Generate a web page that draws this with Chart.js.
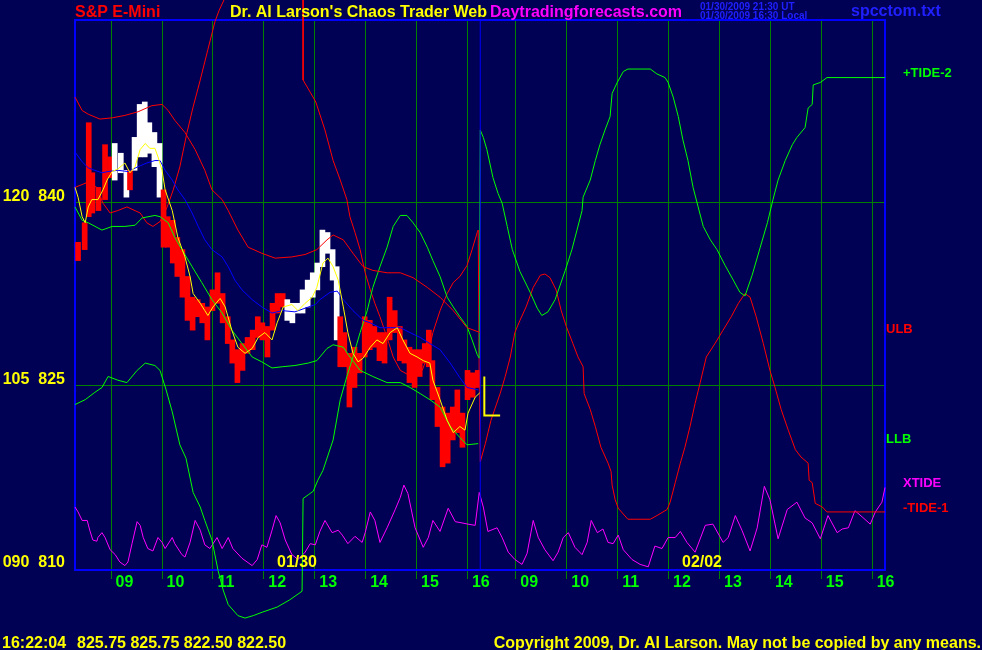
<!DOCTYPE html>
<html>
<head>
<meta charset="utf-8">
<script src="https://cdn.jsdelivr.net/npm/chart.js@4.4.1/dist/chart.umd.min.js"></script>
<style>
  html, body { margin: 0; padding: 0; background: #000055; }
  canvas { display: block; }
</style>
</head>
<body>
<canvas id="chaosCanvas" width="982" height="650"></canvas>
<script>
// x = hours from the left edge of the chart (01/30 session, then 02/02), y = S&P points
const tickHours = [0.71, 1.71, 2.71, 3.71, 4.71, 5.71, 6.71, 7.71, 8.66, 9.66, 10.66, 11.66, 12.66, 13.66, 14.66, 15.66];
const tickLabels = ['09', '10', '11', '12', '13', '14', '15', '16', '09', '10', '11', '12', '13', '14', '15', '16'];
const yTicks = [810, 825, 840];
const yTickLabels = ['090  810', '105  825', '120  840'];
const nowHour = 7.96;

// price bars (01/30)
const barHour = [0.06,0.19,0.27,0.34,0.46,0.59,0.69,0.78,0.90,1.01,1.08,1.17,1.27,1.37,1.46,1.56,1.66,1.74,1.82,1.92,2.01,2.11,2.21,2.31,2.41,2.50,2.60,2.70,2.80,2.90,3.00,3.09,3.19,3.29,3.39,3.49,3.59,3.68,3.78,3.88,3.98,4.08,4.17,4.27,4.37,4.47,4.57,4.67,4.76,4.86,4.96,5.06,5.14,5.21,5.29,5.39,5.49,5.59,5.69,5.79,5.88,5.98,6.08,6.18,6.28,6.38,6.47,6.57,6.67,6.77,6.87,6.95,7.02,7.12,7.22,7.32,7.42,7.51,7.61,7.71,7.81,7.91];
const barLow = [835.2,836.1,838.8,839.1,839.3,840.2,842.0,841.8,842.4,840.4,841.0,842.6,843.7,843.7,844.0,842.9,840.4,836.3,836.3,835.0,833.9,832.2,830.3,829.5,830.6,830.1,828.7,831.1,831.7,830.1,828.4,826.8,825.2,826.2,827.6,827.9,828.9,828.7,827.3,829.5,830.9,831.4,830.3,830.1,830.9,830.9,831.4,832.2,832.8,834.7,835.8,833.6,828.7,826.5,826.5,823.2,824.8,826.0,827.3,827.9,828.1,827.0,826.8,828.7,829.3,827.0,826.8,825.2,824.8,825.7,826.8,826.5,823.8,821.6,818.3,818.6,820.5,821.1,819.9,823.8,824.0,824.8];
const barHigh = [836.7,838.3,846.5,842.4,841.2,844.7,843.7,844.8,844.0,842.6,842.6,845.3,848.0,848.2,846.5,845.7,844.8,841.0,838.8,838.5,837.1,836.1,833.9,832.2,832.0,831.7,831.4,832.8,834.2,832.5,830.6,828.7,827.9,828.4,828.9,829.5,830.6,830.1,829.8,831.7,832.5,832.5,832.0,831.7,831.7,832.8,833.6,834.2,835.0,837.7,837.5,836.1,834.7,830.6,829.3,827.6,828.1,827.6,830.6,830.3,829.8,829.3,829.3,832.2,831.1,829.8,828.7,828.1,827.9,827.9,828.4,829.5,827.0,824.8,823.2,822.7,823.2,824.6,822.7,826.2,826.0,826.2];
const barSide = ['dn','dn','dn','dn','dn','dn','dn','up','up','up','dn','up','up','up','up','up','up',
  'dn','dn','dn','dn','dn','dn','dn','dn','dn','dn','dn','dn','dn','dn','dn','dn','dn','dn','dn','dn','dn','dn','dn','dn','dn',
  'up','up','up','up','up','up','up','up','up','up','up',
  'dn','dn','dn','dn','dn','dn','dn','dn','dn','dn','dn','dn','dn','dn','dn','dn','dn','dn','dn','dn','dn','dn','dn','dn','dn','dn','dn','dn','dn'];

// averages and bands on 01/30
const fastAvg = [[0,841.2],[0.06,840.4],[0.14,838.8],[0.20,838.3],[0.26,839.6],[0.33,840.2],[0.45,840.2],[0.55,841.0],[0.63,841.8],[0.73,842.5],[0.84,842.7],[0.98,843.2],[1.08,842.4],[1.18,842.9],[1.28,844.3],[1.38,844.8],[1.47,844.4],[1.57,844.4],[1.63,843.7],[1.71,842.6],[1.77,841.0],[1.91,839.3],[2.02,837.1],[2.16,835.5],[2.26,833.9],[2.32,832.5],[2.46,831.7],[2.55,831.1],[2.61,830.7],[2.71,831.4],[2.85,832.1],[2.95,831.4],[3.08,829.5],[3.20,828.1],[3.34,827.6],[3.48,828.0],[3.60,828.9],[3.73,829.3],[3.87,828.7],[3.97,830.1],[4.09,831.4],[4.26,831.6],[4.38,831.1],[4.52,831.7],[4.66,832.2],[4.75,833.0],[4.87,835.0],[4.97,835.4],[5.07,834.7],[5.17,833.6],[5.27,831.4],[5.36,829.3],[5.46,827.6],[5.56,826.9],[5.66,827.2],[5.80,828.1],[5.93,828.7],[6.05,828.4],[6.19,829.3],[6.33,829.7],[6.44,828.7],[6.58,827.6],[6.72,827.3],[6.84,827.0],[6.97,826.8],[7.03,825.4],[7.17,823.8],[7.31,822.1],[7.43,821.1],[7.56,821.6],[7.66,821.3],[7.72,822.7],[7.86,824.0],[7.96,824.4]];
const slowAvg = [[0,844.1],[0.14,843.3],[0.26,842.8],[0.39,842.6],[0.53,842.4],[0.65,842.5],[0.84,842.6],[1.04,842.5],[1.24,842.9],[1.41,843.2],[1.57,843.4],[1.67,843.4],[1.77,842.6],[1.91,841.8],[2.02,841.0],[2.16,840.2],[2.30,839.1],[2.42,838.0],[2.55,836.9],[2.69,836.1],[2.89,835.5],[3.01,834.7],[3.14,833.6],[3.28,832.8],[3.48,832.0],[3.67,831.4],[3.87,830.9],[4.07,831.1],[4.32,831.0],[4.52,831.3],[4.72,831.6],[4.81,832.0],[5.01,832.6],[5.15,832.7],[5.27,832.0],[5.46,831.1],[5.66,830.3],[5.80,830.1],[5.99,829.7],[6.19,829.7],[6.39,829.7],[6.58,829.3],[6.78,828.9],[6.97,828.4],[7.17,827.9],[7.37,826.8],[7.56,825.6],[7.70,824.8],[7.92,824.6]];
const ulb = [[0,848.6],[0.14,847.5],[0.26,847.2],[0.49,846.8],[0.73,846.9],[0.98,847.1],[1.24,847.4],[1.51,847.9],[1.71,848.0],[1.83,847.5],[1.96,846.7],[2.16,845.7],[2.36,844.3],[2.55,842.6],[2.69,841.0],[2.89,840.2],[3.01,839.3],[3.20,837.7],[3.40,836.3],[3.67,835.8],[3.93,835.4],[4.26,835.5],[4.52,835.7],[4.75,836.1],[4.95,836.9],[5.07,837.3],[5.27,836.9],[5.46,835.8],[5.66,834.7],[5.85,834.4],[6.13,834.2],[6.39,834.2],[6.64,833.8],[6.92,833.0],[7.17,832.2],[7.43,831.1],[7.70,829.7],[7.96,829.3]];
const llb = [[0,839.6],[0.14,838.5],[0.26,838.3],[0.53,837.7],[0.73,838.0],[0.98,838.0],[1.18,838.1],[1.32,838.7],[1.57,838.9],[1.67,838.8],[1.83,838.3],[1.96,837.1],[2.10,836.1],[2.30,834.7],[2.49,833.4],[2.69,832.0],[2.89,830.9],[3.08,829.5],[3.28,828.4],[3.48,827.3],[3.67,826.9],[3.87,826.4],[4.07,826.5],[4.32,826.6],[4.58,826.8],[4.75,827.0],[4.95,828.0],[5.07,828.3],[5.27,828.1],[5.40,827.3],[5.60,826.2],[5.85,825.7],[6.13,825.2],[6.39,825.2],[6.58,824.8],[6.78,824.3],[6.97,823.8],[7.17,823.2],[7.37,821.6],[7.56,820.7],[7.70,820.1],[7.92,820.2]];

// tides, both days
const tidePlus2 = [[0,823.4],[0.20,823.8],[0.39,824.4],[0.53,824.8],[0.65,825.7],[0.84,825.4],[1.02,825.2],[1.22,826.2],[1.38,826.8],[1.57,826.6],[1.67,826.2],[1.79,824.6],[1.91,822.8],[2.06,820.1],[2.18,819.0],[2.32,816.2],[2.46,815.0],[2.55,813.9],[2.69,812.3],[2.81,809.8],[2.91,808.2],[3.01,807.0],[3.20,806.1],[3.34,805.9],[3.50,806.1],[3.69,806.4],[3.97,806.8],[4.22,807.4],[4.46,808.1],[4.48,815.7],[4.58,816.0],[4.68,816.3],[4.77,817.2],[4.87,818.0],[5.07,820.5],[5.21,823.8],[5.34,825.7],[5.46,827.3],[5.60,829.3],[5.74,831.1],[5.85,833.0],[5.99,834.7],[6.13,836.3],[6.25,838.0],[6.39,838.9],[6.52,838.9],[6.64,838.3],[6.78,837.5],[6.92,836.3],[7.03,835.2],[7.17,833.9],[7.31,832.2],[7.43,831.4],[7.56,830.6],[7.70,829.8],[7.80,828.7],[7.90,827.5],[7.94,827.2],
  [7.96,845.9],[8.02,845.3],[8.09,844.3],[8.21,842.0],[8.31,840.7],[8.39,839.9],[8.49,838.0],[8.59,836.1],[8.74,834.3],[8.94,832.6],[9.08,831.3],[9.17,830.7],[9.29,831.0],[9.43,832.0],[9.63,834.4],[9.76,836.1],[9.86,837.7],[9.96,839.3],[9.98,840.4],[10.12,841.8],[10.22,843.4],[10.31,844.7],[10.41,845.9],[10.51,847.0],[10.55,848.9],[10.65,849.8],[10.77,850.7],[10.86,850.9],[11.30,850.9],[11.43,850.5],[11.59,850.2],[11.65,849.8],[11.75,848.6],[11.85,847.0],[11.94,845.1],[12.04,843.4],[12.14,841.2],[12.24,839.6],[12.34,838.0],[12.48,836.9],[12.61,836.1],[12.77,834.8],[12.93,833.6],[13.06,832.6],[13.16,832.3],[13.30,834.0],[13.46,836.3],[13.60,838.3],[13.71,840.2],[13.81,841.8],[13.95,843.4],[14.09,844.7],[14.18,845.3],[14.34,846.1],[14.40,847.7],[14.48,848.0],[14.50,849.6],[14.64,849.8],[14.77,850.2],[15.91,850.2]];
const tideMinus1 = [[0,841.2],[0.24,841.6],[0.43,841.2],[0.55,839.9],[0.69,839.1],[0.84,839.3],[1.02,839.6],[1.28,839.1],[1.41,838.3],[1.53,838.0],[1.67,838.4],[1.81,839.6],[1.93,841.0],[2.06,842.9],[2.20,845.7],[2.32,847.8],[2.46,850.0],[2.61,852.5],[2.75,854.8],[2.83,855.7],[2.93,856.6],[3.01,857.4],[4.48,857.4],[4.48,850.0],[4.62,849.0],[4.73,848.2],[4.91,845.9],[5.07,843.4],[5.21,841.8],[5.34,840.2],[5.40,838.8],[5.50,837.5],[5.60,836.1],[5.70,834.2],[5.80,832.8],[5.89,831.7],[5.99,830.6],[6.13,828.9],[6.25,827.3],[6.39,826.2],[6.52,825.9],[6.68,825.9],[6.82,826.2],[6.92,827.3],[7.03,829.3],[7.17,831.1],[7.31,832.5],[7.43,833.4],[7.56,833.9],[7.70,834.8],[7.80,836.1],[7.90,837.5],[7.92,837.7],[7.94,825.4],
  [7.96,818.7],[8.06,820.2],[8.17,822.1],[8.35,824.3],[8.45,825.7],[8.55,827.3],[8.64,829.3],[8.74,830.3],[8.86,831.4],[9.00,833.0],[9.14,834.0],[9.23,834.1],[9.33,833.8],[9.45,832.8],[9.55,831.1],[9.65,829.8],[9.78,828.4],[9.88,827.3],[9.98,826.5],[10.00,824.3],[10.12,823.0],[10.22,821.6],[10.33,819.9],[10.47,818.6],[10.53,817.9],[10.55,816.8],[10.61,815.6],[10.67,814.9],[10.86,814.0],[11.30,814.0],[11.43,814.3],[11.63,814.8],[11.69,815.4],[11.79,817.0],[11.89,818.6],[11.98,819.9],[12.08,821.6],[12.18,823.5],[12.28,825.2],[12.40,827.3],[12.57,828.4],[12.73,829.5],[12.89,830.6],[13.03,831.7],[13.16,832.5],[13.26,832.2],[13.38,830.6],[13.52,828.4],[13.65,826.2],[13.75,824.8],[13.87,823.0],[14.01,821.3],[14.15,819.7],[14.26,819.1],[14.40,818.6],[14.42,817.2],[14.48,817.0],[14.54,815.3],[14.68,815.0],[14.77,814.6],[15.91,814.6]];
const xtide = [[0,815.0],[0.06,814.6],[0.14,813.9],[0.24,813.9],[0.29,813.1],[0.35,812.3],[0.43,812.2],[0.45,812.5],[0.53,812.9],[0.59,812.5],[0.69,811.5],[0.79,811.1],[0.88,810.5],[0.98,810.2],[1.04,810.5],[1.12,812.0],[1.22,813.8],[1.28,813.5],[1.34,812.5],[1.43,811.6],[1.53,811.4],[1.63,812.5],[1.71,812.1],[1.77,811.6],[1.91,812.5],[1.96,812.0],[2.10,811.1],[2.16,810.9],[2.26,812.1],[2.36,813.9],[2.46,813.1],[2.55,811.9],[2.65,811.6],[2.79,812.5],[2.89,811.6],[3.01,812.5],[3.10,811.6],[3.28,810.8],[3.48,810.2],[3.58,810.7],[3.67,811.9],[3.77,811.7],[3.87,813.1],[3.95,814.3],[4.03,813.7],[4.13,812.3],[4.26,811.1],[4.38,810.7],[4.52,811.3],[4.62,812.0],[4.72,811.9],[4.81,813.0],[4.91,813.9],[5.05,812.9],[5.17,813.1],[5.25,812.7],[5.36,812.0],[5.50,812.6],[5.64,812.1],[5.70,812.9],[5.80,814.6],[5.89,813.9],[5.99,812.1],[6.13,813.3],[6.29,814.8],[6.39,815.8],[6.46,816.8],[6.54,816.1],[6.68,813.3],[6.84,811.7],[6.94,812.5],[7.03,813.9],[7.17,813.0],[7.33,814.9],[7.47,813.8],[7.60,813.7],[7.72,813.6],[7.86,813.5],[7.94,816.2],[8.02,815.0],[8.11,813.0],
  [8.29,813.3],[8.39,812.5],[8.51,811.3],[8.64,810.7],[8.78,810.3],[8.88,811.2],[9.00,813.9],[9.10,812.5],[9.23,811.5],[9.39,810.6],[9.49,811.3],[9.59,812.5],[9.69,812.9],[9.82,811.7],[9.96,811.1],[10.06,812.1],[10.14,813.9],[10.26,812.9],[10.37,813.2],[10.47,812.1],[10.57,812.0],[10.67,812.7],[10.77,811.5],[10.94,810.7],[11.10,810.3],[11.26,810.1],[11.39,811.8],[11.53,811.6],[11.65,812.5],[11.79,812.5],[11.89,813.0],[12.02,812.1],[12.18,811.3],[12.38,813.5],[12.53,813.6],[12.73,812.1],[12.83,812.5],[12.97,814.3],[13.10,813.1],[13.26,811.4],[13.40,813.3],[13.54,816.7],[13.65,815.6],[13.81,812.4],[13.99,814.8],[14.18,815.4],[14.34,814.1],[14.48,813.7],[14.64,812.4],[14.79,814.3],[14.97,812.9],[15.07,813.2],[15.19,813.3],[15.32,814.7],[15.46,814.2],[15.62,813.6],[15.72,814.6],[15.85,815.4],[15.91,816.6]];
// projection marker after the close
const projMark = [[8.04,825.7],[8.04,822.5],[8.35,822.5]];

const yMin = 809.84, yMax = 854.92;
const FONT = "'Liberation Sans', Arial, sans-serif";
Chart.defaults.font.family = FONT;

function line(pts, color, order, width) {
  return {
    type: 'line',
    data: pts.map(p => ({x: p[0], y: p[1]})),
    borderColor: color,
    borderWidth: width || 1,
    pointRadius: 0,
    tension: 0,
    fill: false,
    clip: false,
    order: order
  };
}

const chaosDecor = {
  id: 'chaosDecor',
  beforeDraw(chart) {
    const c = chart.ctx;
    c.save();
    c.fillStyle = '#000055';
    c.fillRect(0, 0, chart.width, chart.height);
    c.restore();
  },
  beforeDatasetsDraw(chart) {
    const c = chart.ctx, a = chart.chartArea;
    c.save();
    c.strokeStyle = '#0000ff';
    c.lineWidth = 2;
    c.strokeRect(a.left, a.top, a.right - a.left, a.bottom - a.top);
    c.restore();
  },
  afterDraw(chart) {
    const c = chart.ctx;
    function txt(s, x, y, color, size, align) {
      c.font = 'bold ' + size + 'px ' + FONT;
      c.fillStyle = color;
      c.textAlign = align || 'left';
      c.textBaseline = 'alphabetic';
      c.fillText(s, x, y);
    }
    c.save();
    txt('S&P E-Mini', 75, 17, '#ff0000', 16);
    txt("Dr. Al Larson's Chaos Trader Web", 230, 17, '#ffff00', 16);
    txt('Daytradingforecasts.com', 490, 17, '#ff00ff', 16);
    txt('01/30/2009 21:30 UT', 700, 10, '#2020ff', 10);
    txt('01/30/2009 16:30 Local', 700, 19, '#2020ff', 10);
    txt('spcctom.txt', 851, 16, '#2020ff', 16);
    txt('16:22:04', 2, 648, '#ffff00', 16);
    txt('825.75 825.75 822.50 822.50', 77, 648, '#ffff00', 16);
    txt('Copyright 2009, Dr. Al Larson. May not be copied by any means.', 981, 648, '#ffff00', 16, 'right');
    txt('01/30', 297, 567, '#ffff00', 16, 'center');
    txt('02/02', 702, 567, '#ffff00', 16, 'center');
    txt('+TIDE-2', 903, 77, '#00ff00', 13);
    txt('ULB', 886, 333, '#ff0000', 13);
    txt('LLB', 886, 443, '#00ff00', 13);
    txt('XTIDE', 903, 487, '#ff00ff', 13);
    txt('-TIDE-1', 903, 512, '#ff0000', 13);
    c.restore();
  }
};

new Chart(document.getElementById('chaosCanvas'), {
  type: 'line',
  data: {
    datasets: [
      {
        type: 'bar',
        data: barHour.map((h, i) => ({x: h, y: [barLow[i], barHigh[i]]})),
        backgroundColor: barSide.map(s => s === 'up' ? '#ffffff' : '#ff0000'),
        borderWidth: 0,
        barThickness: 5,
        grouped: false,
        order: 10
      },
      line(xtide, '#ff00ff', 6),
      line(tidePlus2, '#00ff00', 5),
      line(tideMinus1, '#ff0000', 5),
      line(ulb, '#ff0000', 4),
      line(llb, '#00ff00', 4),
      line(slowAvg, '#0000ff', 3),
      line(fastAvg, '#ffff00', 2),
      line(projMark, '#ffff00', 1, 2),
      line([[nowHour, yMin], [nowHour, yMax]], '#0000ff', 0)
    ]
  },
  options: {
    responsive: false,
    animation: false,
    events: [],
    layout: { padding: { top: 20, right: 97, left: 0, bottom: 0 } },
    plugins: { legend: { display: false }, tooltip: { enabled: false }, title: { display: false } },
    scales: {
      x: {
        type: 'linear',
        min: 0,
        max: 15.91,
        offset: false,
        afterBuildTicks: s => { s.ticks = tickHours.map(v => ({value: v})); },
        afterFit: s => { s.height = 80; },
        border: { display: false },
        grid: { color: '#008000', lineWidth: 1, offset: false, tickLength: 9, drawTicks: true },
        ticks: {
          autoSkip: false,
          maxRotation: 0,
          align: 'start',
          padding: -6,
          color: '#00ff00',
          font: { size: 16, weight: 'bold' },
          callback: (v, i) => ' ' + tickLabels[i]
        }
      },
      y: {
        type: 'linear',
        min: yMin,
        max: yMax,
        beginAtZero: false,
        afterBuildTicks: s => { s.ticks = yTicks.map(v => ({value: v})); },
        afterFit: s => { s.width = 75; },
        border: { display: false },
        grid: {
          drawTicks: false,
          lineWidth: 1,
          color: ctx => (ctx.tick && ctx.tick.value === 810) ? 'rgba(0,0,0,0)' : '#008000'
        },
        ticks: {
          padding: 10,
          labelOffset: -5,
          color: '#ffff00',
          font: { size: 16, weight: 'bold' },
          callback: (v, i) => yTickLabels[i]
        }
      }
    }
  },
  plugins: [chaosDecor]
});
</script>
</body>
</html>
